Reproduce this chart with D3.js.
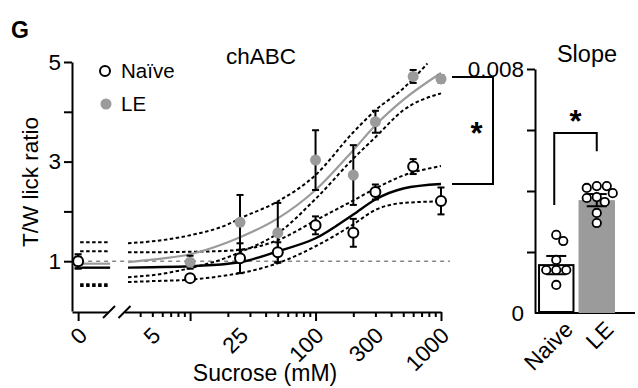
<!DOCTYPE html>
<html>
<head>
<meta charset="utf-8">
<script src="https://cdn.jsdelivr.net/npm/d3@7"></script>
<style>
  body { margin: 0; background: #fff; }
  svg { font-family: "Liberation Sans", Arial, sans-serif; }
  .axis path, .axis line { stroke: #000; stroke-width: 2; }
  .axis text { font-size: 22.5px; fill: #000; font-family: "Liberation Sans", Arial, sans-serif; }
  .band { fill: none; stroke: #000; stroke-width: 2; stroke-dasharray: 3.5 2.5; }
</style>
</head>
<body>
<script>
// dose-response (chABC)
const conc = [0, 10, 25, 50, 100, 200, 300, 600, 1000];
const naiveMean = [1.00, 0.66, 1.06, 1.18, 1.72, 1.57, 2.39, 2.90, 2.21];
const naiveSem = [0.14, 0.07, 0.30, 0.20, 0.18, 0.28, 0.15, 0.15, 0.27];
const leMean = [0.97, 0.98, 1.78, 1.57, 3.03, 2.73, 3.80, 4.71, 4.66];
const leSem = [0.12, 0.13, 0.55, 0.60, 0.60, 0.60, 0.22, 0.13, 0.07];

// fitted curves and 95% bands: [sucrose mM, ratio]
const naiveFit = [[3.2, 0.87], [5, 0.88], [10, 0.90], [20, 0.95], [25, 0.98], [50, 1.20], [100, 1.46], [200, 1.94], [300, 2.24], [500, 2.46], [1000, 2.55]];
const naiveUpper = [[3.2, 1.18], [5, 1.18], [10, 1.19], [20, 1.21], [25, 1.23], [50, 1.42], [100, 1.82], [200, 2.22], [300, 2.46], [500, 2.72], [1000, 2.91]];
const naiveLower = [[3.2, 0.58], [5, 0.60], [10, 0.63], [20, 0.72], [25, 0.76], [50, 0.96], [100, 1.30], [200, 1.74], [300, 2.03], [500, 2.17], [1000, 2.20]];
const leFit = [[3.2, 0.98], [5, 1.03], [10, 1.14], [20, 1.38], [25, 1.48], [50, 1.86], [100, 2.43], [200, 3.23], [300, 3.73], [500, 4.24], [1000, 4.78]];
const leUpper = [[3.2, 1.36], [5, 1.40], [10, 1.52], [20, 1.74], [25, 1.86], [50, 2.20], [100, 2.73], [200, 3.59], [300, 4.03], [500, 4.47], [780, 4.97]];
const leLower = [[3.2, 0.68], [5, 0.72], [10, 0.86], [20, 1.08], [25, 1.18], [50, 1.56], [100, 2.25], [200, 3.06], [300, 3.49], [500, 4.03], [1000, 4.37]];
// the same curves at 0 mM (baseline)
const baseNames = ["naiveFit", "leFit", "naiveUpper", "naiveLower", "leUpper", "leLower"];
const baseValues = [0.87, 0.95, 1.20, 0.535, 1.38, 0.50];

const xTickLabels = [5, 25, 100, 300, 1000];
const xMajor = [10, 100, 1000];
const xMinor = [4, 5, 6, 7, 8, 9, 20, 30, 40, 50, 60, 70, 80, 90, 200, 300, 400, 500, 600, 700, 800, 900];
const yTicks = [1, 2, 3, 4, 5];

// slope panel
const groups = ["Naive", "LE"];
const slopeMean = [0.00157, 0.0037];
const slopeSem = [0.0003, 0.0002];
const slopeNaive = [0.00256, 0.00236, 0.00174, 0.00141, 0.00141, 0.00141, 0.00092];
const slopeLE = [0.00416, 0.00416, 0.0041, 0.00393, 0.0038, 0.00377, 0.00364, 0.00328, 0.00295];
const slopeTicks = [0, 0.002, 0.004, 0.006, 0.008];

const GRAY = "#9b9b9b";
const width = 638, height = 388;

const svg = d3.select("body").append("svg")
  .attr("width", width).attr("height", height);

// ---------- left panel ----------
const y = d3.scaleLinear().domain([0, 5]).range([311, 62]);
const xZero = d3.scalePoint().domain(["0"]).range([72, 108]).align(0.17);
const x = d3.scaleLog().domain([3, 1000]).range([124.5, 441]);
const xAt = c => c === 0 ? xZero("0") : x(c);

svg.append("text").attr("x", 11).attr("y", 38)
  .attr("font-size", 23).attr("font-weight", "bold").text("G");

// y axis
svg.append("g").attr("class", "axis")
  .attr("transform", `translate(72,0)`)
  .call(d3.axisLeft(y).tickValues(yTicks).tickSize(8).tickSizeOuter(0)
    .tickFormat(d => d % 2 ? d : ""))
  .call(g => g.selectAll("text").attr("x", -11));

// x axis, zero part
svg.append("g").attr("class", "axis")
  .attr("transform", `translate(0,312)`)
  .call(d3.axisBottom(xZero).tickSize(9).tickSizeOuter(0))
  .call(g => g.selectAll("text").attr("y", 0).attr("dy", 0)
    .attr("text-anchor", "end").attr("transform", "translate(10,25) rotate(-45)"));

// x axis, log part
const xAxisG = svg.append("g").attr("class", "axis").attr("transform", `translate(0,312)`);
xAxisG.call(d3.axisBottom(x).tickValues(xMinor).tickSize(5).tickSizeOuter(0).tickFormat(""));
xAxisG.append("g")
  .call(d3.axisBottom(x).tickValues(xMajor).tickSize(9).tickSizeOuter(0).tickFormat(""))
  .call(g => g.select(".domain").remove());
xAxisG.append("g")
  .call(d3.axisBottom(x).tickValues(xTickLabels).tickSize(0).tickFormat(d3.format("d")))
  .call(g => g.select(".domain").remove())
  .call(g => g.selectAll("text").attr("y", 0).attr("dy", 0)
    .attr("text-anchor", "end").attr("transform", "translate(9,25) rotate(-45)"));

// axis break marks
[xZero.range()[1] + 1, x.range()[0]].forEach(bx => {
  svg.append("line")
    .attr("x1", bx - 6).attr("y1", 318).attr("x2", bx + 6).attr("y2", 306)
    .attr("stroke", "#000").attr("stroke-width", 2);
});

// reference line at 1
svg.append("line")
  .attr("x1", xZero("0") + 10).attr("x2", x(1000) + 9)
  .attr("y1", y(1)).attr("y2", y(1))
  .attr("stroke", "#888").attr("stroke-width", 1.5).attr("stroke-dasharray", "4 4");

// curves
const line = d3.line().x(d => x(d[0])).y(d => y(d[1])).curve(d3.curveMonotoneX);
const curveStyle = {
  naiveFit: { cls: null, stroke: "#000", w: 2.4 },
  leFit: { cls: null, stroke: GRAY, w: 2.2 },
  naiveUpper: { cls: "band" }, naiveLower: { cls: "band" },
  leUpper: { cls: "band" }, leLower: { cls: "band" }
};
const curveData = { naiveFit, leFit, naiveUpper, naiveLower, leUpper, leLower };

const curves = svg.append("g");
["naiveUpper", "naiveLower", "leUpper", "leLower", "leFit", "naiveFit"].forEach(name => {
  const s = curveStyle[name];
  const p = curves.append("path").attr("d", line(curveData[name]));
  if (s.cls) p.attr("class", s.cls);
  else p.attr("fill", "none").attr("stroke", s.stroke).attr("stroke-width", s.w);
});

// baseline segments at 0 mM
baseNames.forEach((name, i) => {
  const s = curveStyle[name];
  const l = curves.append("line")
    .attr("x1", xZero("0") + 2).attr("x2", xZero("0") + 32)
    .attr("y1", y(baseValues[i])).attr("y2", y(baseValues[i]));
  if (s.cls) l.attr("class", s.cls);
  else l.attr("stroke", s.stroke).attr("stroke-width", s.w);
});

// error bars + points
function drawSeries(means, sems, fill) {
  const g = svg.append("g");
  const rows = conc.map((c, i) => ({ c, m: means[i], s: sems[i] }));
  const eb = g.selectAll("g").data(rows).join("g")
    .attr("stroke", "#000").attr("stroke-width", 2);
  eb.append("line")
    .attr("x1", d => xAt(d.c)).attr("x2", d => xAt(d.c))
    .attr("y1", d => y(d.m - d.s)).attr("y2", d => y(d.m + d.s));
  [-1, 1].forEach(sg => {
    eb.append("line")
      .attr("x1", d => xAt(d.c) - 3.5).attr("x2", d => xAt(d.c) + 3.5)
      .attr("y1", d => y(d.m + sg * d.s)).attr("y2", d => y(d.m + sg * d.s));
  });
  g.selectAll("circle").data(rows).join("circle")
    .attr("cx", d => xAt(d.c)).attr("cy", d => y(d.m)).attr("r", fill === "#fff" ? 5 : 5.5)
    .attr("fill", fill)
    .attr("stroke", fill === "#fff" ? "#000" : "none").attr("stroke-width", 2);
}
drawSeries(leMean, leSem, GRAY);
drawSeries(naiveMean, naiveSem, "#fff");

// legend
svg.append("circle").attr("cx", 105).attr("cy", 71).attr("r", 5)
  .attr("fill", "#fff").attr("stroke", "#000").attr("stroke-width", 2);
svg.append("text").attr("x", 121).attr("y", 78).attr("font-size", 20.5).text("Naïve");
svg.append("circle").attr("cx", 106).attr("cy", 104).attr("r", 5.5).attr("fill", GRAY);
svg.append("text").attr("x", 121).attr("y", 111).attr("font-size", 20.5).text("LE");

// titles and labels
svg.append("text").attr("x", 261).attr("y", 64).attr("text-anchor", "middle")
  .attr("font-size", 22.5).text("chABC");
svg.append("text").attr("transform", "translate(38,182) rotate(-90)")
  .attr("text-anchor", "middle").attr("font-size", 22.5).text("T/W lick ratio");
svg.append("text").attr("x", 265).attr("y", 381).attr("text-anchor", "middle")
  .attr("font-size", 23).text("Sucrose (mM)");

// significance bracket between fits
const bx0 = x(1000) + 11, bx1 = x(1000) + 52;
svg.append("path")
  .attr("d", `M${bx0},${y(leFit[leFit.length - 1][1]) + 4}H${bx1}V${y(naiveFit[naiveFit.length - 1][1])}H${bx0}`)
  .attr("fill", "none").attr("stroke", "#000").attr("stroke-width", 2);
svg.append("text").attr("x", (bx0 + bx1) / 2 + 4).attr("y", 144).attr("text-anchor", "middle")
  .attr("font-size", 31).attr("font-weight", "bold").text("*");

// ---------- right panel ----------
const y2 = d3.scaleLinear().domain([0, 0.008]).range([313, 69]);
const xb = d3.scaleBand().domain(groups).range([536, 617]).paddingInner(0.1).paddingOuter(0.05);

svg.append("g").attr("class", "axis")
  .attr("transform", `translate(535,0)`)
  .call(d3.axisLeft(y2).tickValues(slopeTicks).tickSize(8).tickSizeOuter(0)
    .tickFormat(d => d === 0 ? "0" : d === 0.008 ? "0.008" : ""))
  .call(g => g.selectAll(".tick").filter(d => d === 0).select("line").remove())
  .call(g => g.selectAll("text").attr("x", -11));

svg.append("g").attr("class", "axis")
  .attr("transform", `translate(0,313)`)
  .call(d3.axisBottom(xb).tickSize(0).tickSizeOuter(0))
  .call(g => g.select(".domain").attr("d", "M535,0H635"))
  .call(g => g.selectAll("text").attr("y", 0).attr("dy", 0)
    .attr("text-anchor", "end").attr("transform", "translate(18,18) rotate(-45)"));

svg.append("text").attr("x", 587).attr("y", 62).attr("text-anchor", "middle")
  .attr("font-size", 23.5).text("Slope");

// bars
svg.append("g").selectAll("rect").data(groups).join("rect")
  .attr("x", d => xb(d) + (d === "Naive" ? 1 : 0))
  .attr("width", d => xb.bandwidth() - (d === "Naive" ? 2 : 0))
  .attr("y", (d, i) => y2(slopeMean[i]))
  .attr("height", (d, i) => y2(0) - y2(slopeMean[i]) - (d === "Naive" ? 1 : 0))
  .attr("fill", d => d === "Naive" ? "#fff" : GRAY)
  .attr("stroke", d => d === "Naive" ? "#000" : "none").attr("stroke-width", 2);

// error bars
groups.forEach((gname, i) => {
  const cx = xb(gname) + xb.bandwidth() / 2;
  const g = svg.append("g").attr("stroke", "#000").attr("stroke-width", 2);
  g.append("line").attr("x1", cx).attr("x2", cx)
    .attr("y1", y2(slopeMean[i] - slopeSem[i])).attr("y2", y2(slopeMean[i] + slopeSem[i]));
  [-1, 1].forEach(sg => {
    g.append("line").attr("x1", cx - 10).attr("x2", cx + 10)
      .attr("y1", y2(slopeMean[i] + sg * slopeSem[i])).attr("y2", y2(slopeMean[i] + sg * slopeSem[i]));
  });
});

// individual animals, simple beeswarm
function swarm(values, cx, r) {
  const placed = [];
  values.forEach(v => {
    const py = y2(v);
    for (let k = 0; k < 200; k++) {
      const off = k === 0 ? 0 : Math.ceil(k / 2) * (k % 2 ? 1 : -1);
      const px = cx + off;
      if (placed.every(p => Math.hypot(p.x - px, p.y - py) >= 2 * r)) {
        placed.push({ x: px, y: py });
        break;
      }
    }
  });
  return placed;
}
[slopeNaive, slopeLE].forEach((vals, i) => {
  const cx = xb(groups[i]) + xb.bandwidth() / 2;
  svg.append("g").selectAll("circle").data(swarm(vals, cx, 4.6)).join("circle")
    .attr("cx", d => d.x).attr("cy", d => d.y).attr("r", 4.2)
    .attr("fill", "#fff").attr("stroke", "#000").attr("stroke-width", 1.8);
});

// significance bracket
const cN = xb("Naive") + xb.bandwidth() / 2 - 2, cL = xb("LE") + xb.bandwidth() / 2;
svg.append("path")
  .attr("d", `M${cN},${y2(0.00354)}V${y2(0.0059)}H${cL}V${y2(0.0053)}`)
  .attr("fill", "none").attr("stroke", "#000").attr("stroke-width", 2);
svg.append("text").attr("x", (cN + cL) / 2).attr("y", y2(0.0059) - 1).attr("text-anchor", "middle")
  .attr("font-size", 31).attr("font-weight", "bold").text("*");
</script>
</body>
</html>
